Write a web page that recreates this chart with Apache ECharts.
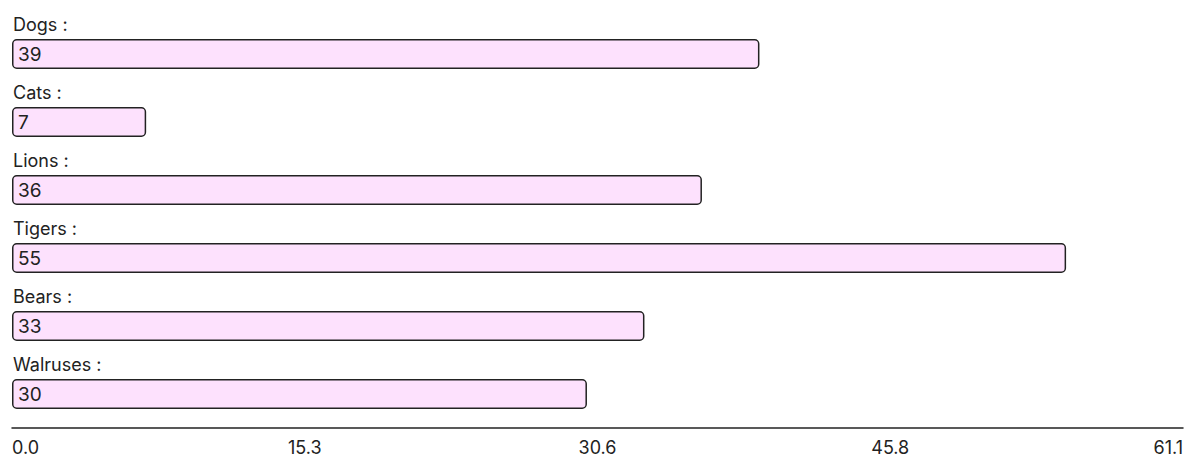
<!DOCTYPE html>
<html>
<head>
<meta charset="utf-8">
<style>
  html, body { margin: 0; padding: 0; background: #fff; }
  #chart { width: 1200px; height: 473px; }
</style>
<script src="https://cdn.jsdelivr.net/npm/echarts@6/dist/echarts.min.js"></script>
</head>
<body>
<div id="chart"></div>
<script>
const categories = ['Dogs', 'Cats', 'Lions', 'Tigers', 'Bears', 'Walruses']
const values = [39, 7, 36, 55, 33, 30]
const axisMax = 61.1

const font = 'Inter, "Noto Sans", sans-serif'
const chart = echarts.init(document.getElementById('chart'), null, { renderer: 'svg' })

chart.setOption({
  animation: false,
  grid: { left: 12, right: 17, top: 20, bottom: 45, containLabel: false },
  xAxis: {
    type: 'value',
    min: 0,
    max: axisMax,
    interval: axisMax / 4,
    splitLine: { show: false },
    axisTick: { show: false },
    axisLine: { show: true, lineStyle: { color: '#222', width: 1.5 } },
    axisLabel: {
      color: '#222',
      fontFamily: font,
      fontSize: 18,
      margin: 10,
      alignMinLabel: 'left',
      alignMaxLabel: 'right',
      formatter: v => v.toFixed(1)
    }
  },
  yAxis: {
    type: 'category',
    data: categories,
    inverse: true,
    axisLine: { show: false },
    axisTick: { show: false },
    z: 10,
    axisLabel: {
      inside: true,
      interval: 0,
      showMinLabel: true,
      showMaxLabel: true,
      hideOverlap: false,
      margin: 1,
      verticalAlign: 'middle',
      // name sits above the bar: an empty second line pushes it up
      formatter: v => '{n|' + v + ' :}\n{g|}',
      rich: {
        n: { color: '#222', fontFamily: font, fontSize: 18, height: 20, lineHeight: 20 },
        g: { height: 60, lineHeight: 60 }
      }
    }
  },
  series: [{
    type: 'bar',
    data: values,
    barWidth: 30,
    itemStyle: {
      color: '#fde1fd',
      borderColor: '#222',
      borderWidth: 1.5,
      borderRadius: 4
    },
    label: {
      show: true,
      position: 'insideLeft',
      distance: 6,
      color: '#222',
      fontFamily: font,
      fontSize: 19
    }
  }]
})
</script>
</body>
</html>
